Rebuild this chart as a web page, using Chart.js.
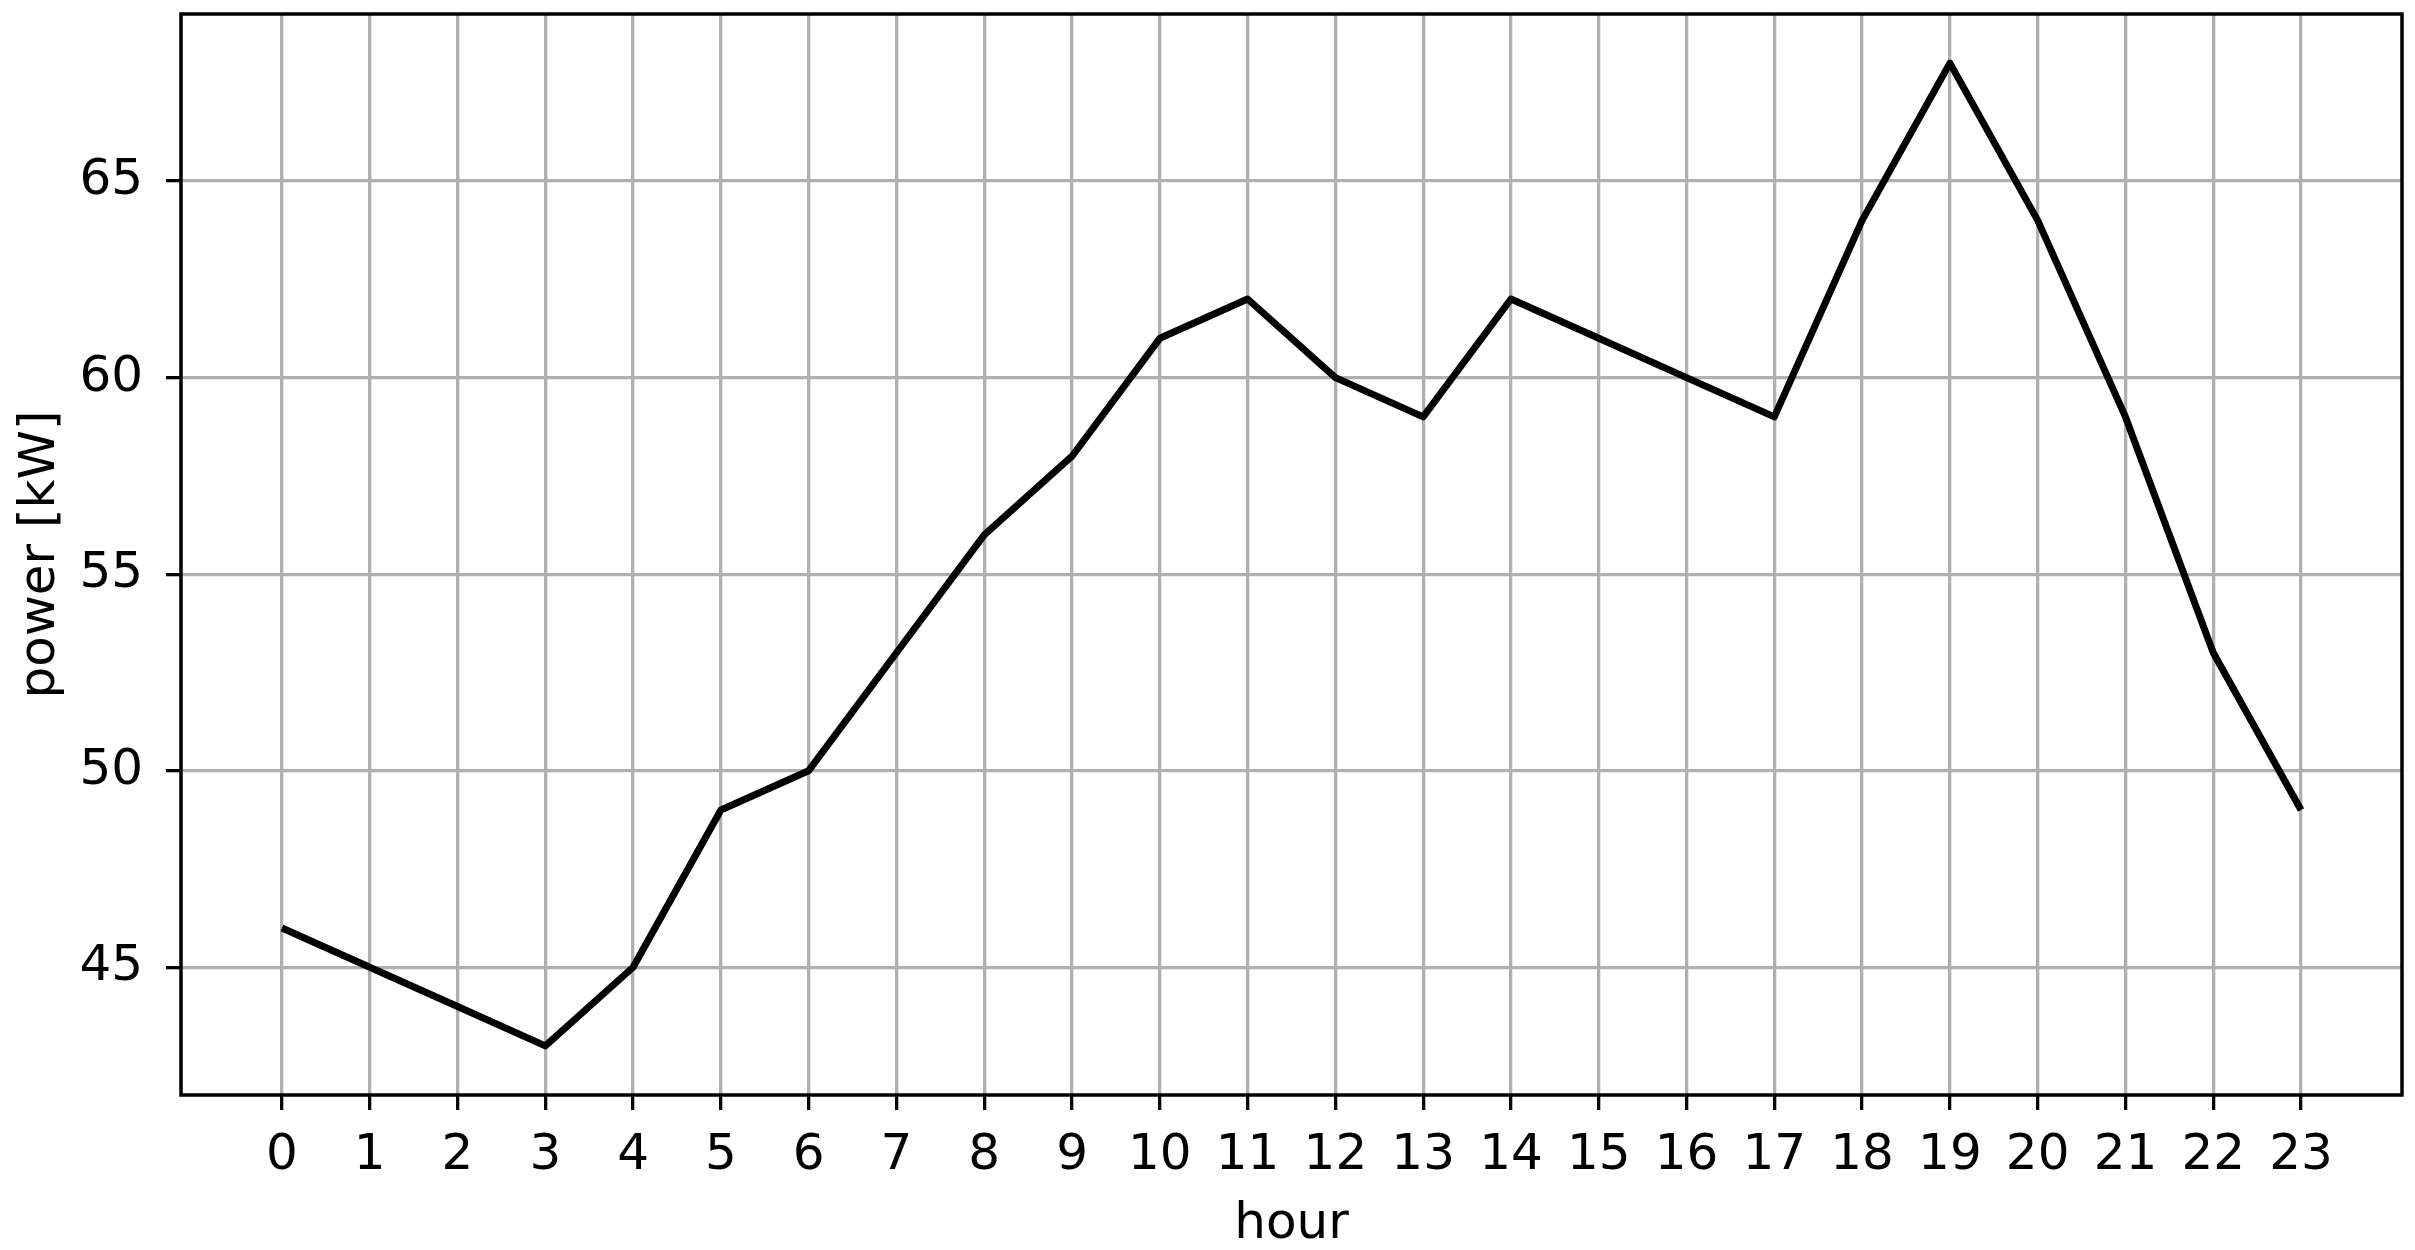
<!DOCTYPE html>
<html>
<head>
<meta charset="utf-8">
<title>power per hour</title>
<script src="https://cdn.jsdelivr.net/npm/chart.js@4"></script>
<style>
    html, body { margin: 0; padding: 0; background: #fff; }
    canvas { display: block; }
</style>
</head>
<body>
<canvas id="chart" width="2415" height="1250"></canvas>
<script>
// data
const hours = [0, 1, 2, 3, 4, 5, 6, 7, 8, 9, 10, 11, 12, 13, 14, 15, 16, 17, 18, 19, 20, 21, 22, 23];
const power = [46, 45, 44, 43, 45, 49, 50, 53, 56, 58, 61, 62, 60, 59, 62, 61, 60, 59, 64, 68, 64, 59, 53, 49];
const yTicks = [45, 50, 55, 60, 65];

const FONT = "DejaVu Sans";

// matplotlib style box around the plot area
const frameBox = {
    id: "frameBox",
    afterDatasetsDraw(chart) {
        const { ctx, chartArea } = chart;
        ctx.save();
        ctx.strokeStyle = "#000";
        ctx.lineWidth = 3.5;
        ctx.lineJoin = "miter";
        ctx.strokeRect(chartArea.left, chartArea.top,
            chartArea.right - chartArea.left, chartArea.bottom - chartArea.top);
        ctx.restore();
    }
};

Chart.defaults.font.family = FONT;
Chart.defaults.color = "#000";

const ctx = document.getElementById("chart").getContext("2d");
new Chart(ctx, {
    type: "line",
    data: {
        datasets: [{
            label: "power",
            data: hours.map((h, i) => ({ x: h, y: power[i] })),
            borderColor: "#000",
            borderWidth: 7,
            borderJoinStyle: "round",
            pointRadius: 0,
            tension: 0,
            fill: false
        }]
    },
    options: {
        responsive: false,
        animation: false,
        devicePixelRatio: 1,
        layout: { padding: { top: 14, right: 13, left: 0, bottom: 0 } },
        plugins: {
            legend: { display: false },
            tooltip: { enabled: false }
        },
        scales: {
            x: {
                type: "linear",
                min: -1.15,
                max: 24.15,
                afterBuildTicks: scale => { scale.ticks = hours.map(v => ({ value: v })); },
                afterFit: scale => {
                    scale.height = 155;
                    scale.paddingLeft = 0;
                    scale.paddingRight = 0;
                },
                ticks: { font: { size: 50 }, color: "#000", padding: 16, maxRotation: 0, autoSkip: false },
                grid: { color: "#b0b0b0", lineWidth: 3.3, tickColor: "#000", tickLength: 15, tickWidth: 3.3 },
                border: { display: false },
                title: { display: true, text: "hour", font: { size: 50, lineHeight: 1.0 }, color: "#000", padding: { top: 0, bottom: 0 } }
            },
            y: {
                min: 41.75,
                max: 69.25,
                afterBuildTicks: scale => { scale.ticks = yTicks.map(v => ({ value: v })); },
                afterFit: scale => {
                    scale.width = 181;
                    scale.paddingTop = 0;
                    scale.paddingBottom = 0;
                },
                ticks: { font: { size: 50 }, color: "#000", padding: 23 },
                grid: { color: "#b0b0b0", lineWidth: 3.3, tickColor: "#000", tickLength: 15, tickWidth: 3.3 },
                border: { display: false },
                title: { display: true, text: "power [kW]", font: { size: 50 }, color: "#000", padding: { top: 11, bottom: 0 } }
            }
        }
    },
    plugins: [frameBox]
});
</script>
</body>
</html>
